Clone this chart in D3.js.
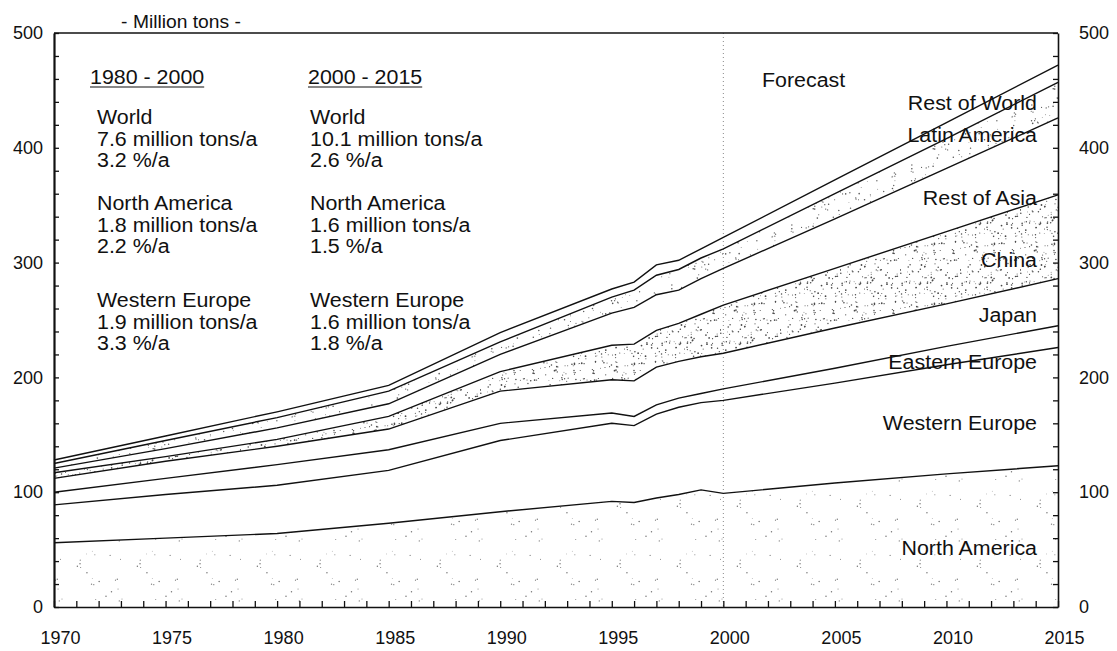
<!DOCTYPE html>
<html>
<head>
<meta charset="utf-8">
<script src="https://cdn.jsdelivr.net/npm/d3@7"></script>
<style>
  body { margin: 0; background: #fff; }
  svg { display: block; }
  text { font-family: "Liberation Sans", Arial, Helvetica, sans-serif; fill: #111; }
</style>
</head>
<body>
<svg id="chart" width="1117" height="651"></svg>
<script>
// Years with readings (forecast after 2000)
const years = [1970, 1975, 1980, 1985, 1990, 1995, 1996, 1997, 1998, 1999, 2000, 2005, 2010, 2015];

// Consumption by region, million tons
const northAmerica  = [56, 60, 64, 73, 83, 92, 91, 95, 98, 102, 99, 108, 116, 123];
const westernEurope = [33, 38, 42, 46, 62, 68, 67, 73, 76, 76, 81, 87, 95, 103];
const easternEurope = [11, 14, 18, 18, 15, 9, 8, 8, 8, 8, 10, 13, 16, 19];
const japan         = [12, 15, 16, 18, 28, 29, 31, 33, 32, 32, 31, 35, 37, 41];
const china         = [5, 4, 6, 11, 17, 30, 32, 32, 33, 37, 42, 52, 63, 73];
const restOfAsia    = [4, 7, 10, 11, 15, 28, 32, 31, 29, 31, 32, 43, 55, 67];
const latinAmerica  = [4, 7, 9, 11, 11, 14, 15, 17, 18, 18, 17, 22, 26, 31];
const restOfWorld   = [3, 4, 5, 5, 8, 7, 7, 9, 8, 8, 10, 12, 14, 15];

const regions = ["North America", "Western Europe", "Eastern Europe", "Japan",
                 "China", "Rest of Asia", "Latin America", "Rest of World"];
const regionSeries = [northAmerica, westernEurope, easternEurope, japan,
                      china, restOfAsia, latinAmerica, restOfWorld];

const yTickLabels = [0, 100, 200, 300, 400, 500];
const xTickLabels = [1970, 1975, 1980, 1985, 1990, 1995, 2000, 2005, 2010, 2015];
const forecastStart = 2000;

const summaryLeft  = { title: "1980 - 2000", blocks: [
  ["World", "7.6 million tons/a", "3.2 %/a"],
  ["North America", "1.8 million tons/a", "2.2 %/a"],
  ["Western Europe", "1.9 million tons/a", "3.3 %/a"]] };
const summaryRight = { title: "2000 - 2015", blocks: [
  ["World", "10.1 million tons/a", "2.6 %/a"],
  ["North America", "1.6 million tons/a", "1.5 %/a"],
  ["Western Europe", "1.6 million tons/a", "1.8 %/a"]] };

// ---- layout ----
const svg = d3.select("#chart");
const plot = { left: 54, right: 1058, top: 33, bottom: 607 };
const x = d3.scaleLinear().domain([1970, 2015]).range([plot.left, plot.right]);
const y = d3.scaleLinear().domain([0, 500]).range([plot.bottom, plot.top]);

const rows = years.map((yr, i) => {
  const r = { year: yr };
  regions.forEach((name, k) => { r[name] = regionSeries[k][i]; });
  return r;
});
const stacked = d3.stack().keys(regions)(rows);

// ---- stipple textures ----
const defs = svg.append("defs");
function stipple(id, count, size, r, color, seed) {
  let s = seed;
  const rnd = () => { s = (s * 16807) % 2147483647; return s / 2147483647; };
  const p = defs.append("pattern").attr("id", id).attr("patternUnits", "userSpaceOnUse")
    .attr("width", size).attr("height", size);
  for (let i = 0; i < count; i++) {
    p.append("circle").attr("cx", rnd() * size).attr("cy", rnd() * size)
      .attr("r", r * (0.6 + rnd() * 0.6)).attr("fill", color);
  }
}
stipple("dotsDense", 150, 60, 0.75, "#4a4a4a", 12345);
stipple("dotsMedium", 70, 60, 0.7, "#555", 777);
stipple("dotsSparse", 22, 60, 0.65, "#777", 4242);

const fills = { "North America": "url(#dotsSparse)", "China": "url(#dotsDense)", "Latin America": "url(#dotsMedium)" };

const area = d3.area().x(d => x(d.data.year)).y0(d => y(d[0])).y1(d => y(d[1]));
const line = d3.line().x(d => x(d.data.year)).y(d => y(d[1]));

svg.append("g").selectAll("path.band")
  .data(stacked.filter(s => fills[s.key]))
  .join("path")
  .attr("class", "band")
  .attr("d", area)
  .attr("fill", s => fills[s.key]);

// forecast divider
svg.append("line")
  .attr("x1", x(forecastStart)).attr("x2", x(forecastStart))
  .attr("y1", y(500)).attr("y2", y(0))
  .attr("stroke", "#888").attr("stroke-width", 1).attr("stroke-dasharray", "1,3");

// region boundaries
svg.append("g").selectAll("path.edge")
  .data(stacked)
  .join("path")
  .attr("class", "edge")
  .attr("d", line)
  .attr("fill", "none")
  .attr("stroke", "#111")
  .attr("stroke-width", 1.4);

// ---- axes ----
const tickFont = 18;
const minorY = d3.range(0, 501, 20);
const leftAxis = d3.axisLeft(y).tickValues(minorY).tickSizeInner(-5).tickSizeOuter(0).tickPadding(11)
  .tickFormat(d => yTickLabels.includes(d) ? d : "");
const rightAxis = d3.axisRight(y).tickValues(minorY).tickSizeInner(-5).tickSizeOuter(0).tickPadding(21)
  .tickFormat(d => yTickLabels.includes(d) ? d : "");
const bottomAxis = d3.axisBottom(x).tickValues(d3.range(1970, 2016)).tickSizeInner(-6).tickSizeOuter(0).tickPadding(24)
  .tickFormat(d => xTickLabels.includes(d) ? d : "");

function styleAxis(g, w) {
  g.selectAll(".domain").attr("stroke", "#111").attr("stroke-width", w);
  g.selectAll(".tick line").attr("stroke", "#111").attr("stroke-width", 1.3);
  g.selectAll(".tick text").attr("font-size", tickFont).attr("fill", "#111")
    .style("font-family", "'Liberation Sans', Arial, sans-serif");
}
svg.append("g").attr("transform", `translate(${plot.left},0)`).call(leftAxis).call(g => styleAxis(g, 2.2));
svg.append("g").attr("transform", `translate(${plot.right},0)`).call(rightAxis).call(g => styleAxis(g, 1.6));
svg.append("g").attr("transform", `translate(0,${plot.bottom})`).call(bottomAxis)
  .call(g => styleAxis(g, 1.6))
  .call(g => g.selectAll(".tick text").attr("dx", 6));

// top frame
svg.append("line").attr("x1", plot.left).attr("x2", plot.right)
  .attr("y1", plot.top).attr("y2", plot.top).attr("stroke", "#111").attr("stroke-width", 1.3);

// slightly wide lettering used for all annotations
const labelFont = 20;
const stretch = 1.07;
function label(parent, tx, ty, str, anchor, size) {
  return parent.append("text")
    .attr("transform", `translate(${tx},${ty}) scale(${stretch},1)`)
    .attr("text-anchor", anchor || "start")
    .attr("font-size", size || labelFont)
    .text(str);
}

// unit caption
label(svg, 181, 28, "- Million tons -", "middle", 18);

// ---- growth summaries ----
function summary(s, x0, titleX) {
  const g = svg.append("g");
  const t = label(g, titleX, 84, s.title);
  const w = t.node().getBBox().width * stretch;
  g.append("line").attr("x1", titleX).attr("x2", titleX + w).attr("y1", 87).attr("y2", 87)
    .attr("stroke", "#111").attr("stroke-width", 1.2);
  const blockTops = [124, 210, 307];
  s.blocks.forEach((b, i) => {
    b.forEach((ln, j) => label(g, x0, blockTops[i] + j * 21.7, ln));
  });
}
summary(summaryLeft, 97, 90);
summary(summaryRight, 310, 308);

label(svg, 762, 87, "Forecast");

// region labels at the right edge
const regionLabelY = {
  "Rest of World": 110, "Latin America": 142, "Rest of Asia": 205, "China": 267,
  "Japan": 322, "Eastern Europe": 369, "Western Europe": 430, "North America": 555
};
const regionLabels = svg.append("g");
regions.forEach(name => label(regionLabels, 1037, regionLabelY[name], name, "end"));
</script>
</body>
</html>
